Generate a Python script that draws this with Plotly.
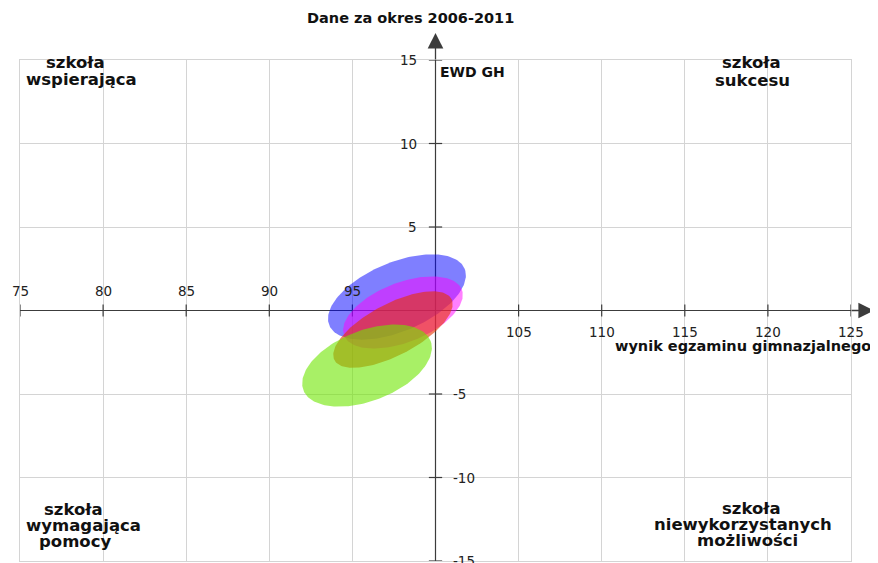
import numpy as np
import plotly.graph_objects as go

# ---------------- data ----------------
series_names = ["A", "B", "C", "D"]
center_x = [97.68, 98.04, 97.44, 95.88]     # wynik egzaminu gimnazjalnego
center_y = [0.81, -0.12, -1.14, -3.30]      # EWD GH
semi_major = [4.41, 3.80, 3.97, 4.10]
semi_minor = [2.07, 1.79, 1.55, 2.11]
tilt_deg = [22.6, 21.2, 27.5, 21.0]

x_ticks_left = [75, 80, 85, 90, 95]
x_ticks_right = [105, 110, 115, 120, 125]
y_ticks_top = [5, 10, 15]
y_ticks_bottom = [-5, -10, -15]

title_text = "Dane za okres 2006-2011"
x_title = "wynik egzaminu gimnazjalnego"
y_title = "EWD GH"
quad_tl = ["szkoła", "wspierająca"]
quad_tr = ["szkoła", "sukcesu"]
quad_bl = ["szkoła", "wymagająca", "pomocy"]
quad_br = ["szkoła", "niewykorzystanych", "możliwości"]

# ---------------- style ----------------
fills = ["rgba(0,0,255,0.5)", "rgba(255,0,255,0.5)",
         "rgba(230,50,0,0.6)", "rgba(110,230,0,0.6)"]
AX = "#3c3c3c"
GRID = "#d4d4d4"
FONT = "DejaVu Sans"
OFF = 8                      # page body margin
W, H = 870, 555
L, T = 12, 52
PW, PH = 831, 501
R, B = W - L - PW, H - T - PH


def px_x(p):
    return (p - OFF - L) / PW


def px_y(p):
    return (OFF + T + PH - p) / PH


fig = go.Figure()

# tick marks on the central axes
tx, ty = [], []
for v in x_ticks_left + x_ticks_right:
    tx += [v, v, None]
    ty += [-0.36, 0.36, None]
for v in y_ticks_top + y_ticks_bottom:
    tx += [99.6, 100.4, None]
    ty += [v, v, None]
fig.add_trace(go.Scatter(x=tx, y=ty, mode="lines", line=dict(color=AX, width=1.2),
                         hoverinfo="skip", cliponaxis=False, showlegend=False))

# ellipses
t = np.linspace(0, 2 * np.pi, 181)
for i, name in enumerate(series_names):
    th = np.radians(tilt_deg[i])
    a, b = semi_major[i], semi_minor[i]
    xs = center_x[i] + a * np.cos(th) * np.cos(t) - b * np.sin(th) * np.sin(t)
    ys = center_y[i] + a * np.sin(th) * np.cos(t) + b * np.cos(th) * np.sin(t)
    fig.add_trace(go.Scatter(x=xs, y=ys, mode="lines", fill="toself", fillcolor=fills[i],
                             line=dict(width=0), name=name, hoverinfo="name", showlegend=False))

shapes = [
    dict(type="line", xref="x", yref="y", x0=75, x1=125, y0=0, y1=0,
         line=dict(color=AX, width=1.2), layer="between"),
    dict(type="line", xref="x", yref="y", x0=100, x1=100, y0=-15, y1=15,
         line=dict(color=AX, width=1.2), layer="between"),
]

ann = []
# arrow heads / axis extensions
ann.append(dict(x=px_x(874), y=0, xref="paper", yref="y", text="", showarrow=True,
                ax=-24, ay=0, arrowhead=2, arrowsize=2.4, arrowwidth=1.3, arrowcolor=AX))
ann.append(dict(x=100, y=px_y(33), xref="x", yref="paper", text="", showarrow=True,
                ax=0, ay=28, arrowhead=2, arrowsize=2.4, arrowwidth=1.3, arrowcolor=AX))

tick_font = dict(family=FONT, size=13.5, color="#222")
for v in x_ticks_left:
    ann.append(dict(x=v, y=0, xref="x", yref="y", text=str(v), showarrow=False,
                    xanchor="center", yanchor="middle", yshift=20, font=tick_font))
for v in x_ticks_right:
    ann.append(dict(x=v, y=0, xref="x", yref="y", text=str(v), showarrow=False,
                    xanchor="center", yanchor="middle", yshift=-21, font=tick_font))
for v in y_ticks_top:
    ann.append(dict(x=100, y=v, xref="x", yref="y", text=str(v), showarrow=False,
                    xanchor="right", yanchor="middle", xshift=-17, font=tick_font))
for v in y_ticks_bottom:
    ann.append(dict(x=100, y=v, xref="x", yref="y", text=str(v), showarrow=False,
                    xanchor="left", yanchor="middle", xshift=15, font=tick_font))

bold14 = dict(family=FONT, size=14.5, color="#111", weight="bold")
ann.append(dict(x=px_x(410), y=px_y(18), xref="paper", yref="paper", text=title_text,
                showarrow=False, xanchor="center", yanchor="middle", font=bold14))
ann.append(dict(x=px_x(438), y=px_y(72), xref="paper", yref="paper", text=y_title,
                showarrow=False, xanchor="left", yanchor="middle",
                font=dict(family=FONT, size=14, color="#111", weight="bold")))
ann.append(dict(x=px_x(873), y=px_y(346), xref="paper", yref="paper", text=x_title,
                showarrow=False, xanchor="right", yanchor="middle", font=bold14))

quad_font = dict(family=FONT, size=16.5, color="#111", weight="bold")
quad_pos = [
    (quad_tl, [(75, 62.5), (81.5, 79.5)]),
    (quad_tr, [(751, 62.5), (752.5, 80.5)]),
    (quad_bl, [(73.5, 509.5), (83.5, 525.5), (75, 541.5)]),
    (quad_br, [(751, 508.5), (743, 524.5), (747.5, 540.5)]),
]
for lines, pos in quad_pos:
    for txt, (px, py) in zip(lines, pos):
        ann.append(dict(x=px_x(px), y=px_y(py), xref="paper", yref="paper", text=txt,
                        showarrow=False, xanchor="center", yanchor="middle", font=quad_font))

fig.update_layout(
    width=W, height=H,
    margin=dict(l=L, r=R, t=T, b=B),
    paper_bgcolor="white", plot_bgcolor="white",
    showlegend=False,
    xaxis=dict(range=[75, 125], tick0=75, dtick=5, showgrid=True, gridcolor=GRID, gridwidth=1,
               zeroline=False, showticklabels=False, ticks="", showline=True, mirror=True,
               linecolor=GRID, linewidth=1, fixedrange=True),
    yaxis=dict(range=[-15, 15], tick0=-15, dtick=5, showgrid=True, gridcolor=GRID, gridwidth=1,
               zeroline=False, showticklabels=False, ticks="", showline=True, mirror=True,
               linecolor=GRID, linewidth=1, fixedrange=True),
    shapes=shapes,
    annotations=ann,
)

fig.write_html("out.html", config={"displayModeBar": False})
